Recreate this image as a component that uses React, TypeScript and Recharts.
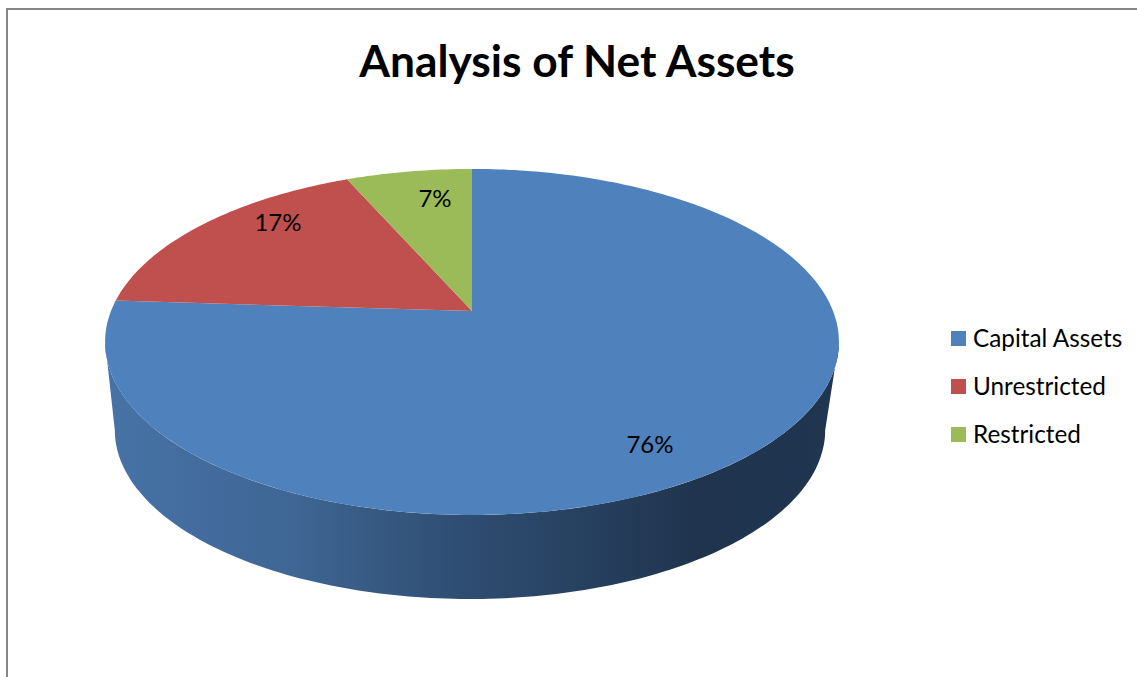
import { PieChart, Pie, Legend } from 'recharts'

const TITLE = 'Analysis of Net Assets'
const CATEGORIES = ['Capital Assets', 'Unrestricted', 'Restricted']
const VALUES = [76, 17.4, 6.6]
const COLORS = ['#4F81BD', '#C0504D', '#9BBB59']

// where each percent label sits, measured from the pie apex
const LABEL_OFFSETS = [[178, 132], [-194, -90], [-37, -114]]

const FONT = 'Lato, Carlito, sans-serif'

const data = CATEGORIES.map((name, i) => ({ name, value: VALUES[i], fill: COLORS[i] }))

// 3D tilt: the flat pie circle is projected on to an ellipse, the apex sits above the ellipse centre
const RX = 361
const RY = 173
const APEX_SHIFT = 31
const TILT = 0.179
const WALL_DROP = 88
const WALL_X_SCALE = 0.968
const WALL_Y_SCALE = 0.977

const project = (cx: number, cy: number, theta: number) => {
    const rad = (theta * Math.PI) / 180
    const den = 1 + TILT * Math.cos(rad)
    return {
        x: cx + (RX * Math.sin(rad)) / den,
        y: cy + APEX_SHIFT - (RY * Math.cos(rad) + APEX_SHIFT) / den,
    }
}

const wallPoint = (cx: number, cy: number, theta: number) => {
    const p = project(cx, cy, theta)
    const ey = cy + APEX_SHIFT
    return {
        x: cx + (p.x - cx) * WALL_X_SCALE - 2,
        y: ey + (p.y - ey) * WALL_Y_SCALE + WALL_DROP,
    }
}

const steps = (from: number, to: number) => {
    const out: number[] = []
    for (let t = from; t < to; t += 1) out.push(t)
    out.push(to)
    return out
}

const toPath = (pts: { x: number; y: number }[]) =>
    pts.map((p, i) => `${i ? 'L' : 'M'}${p.x.toFixed(1)},${p.y.toFixed(1)}`).join(' ') + ' Z'

// only the front of the rim shows: between the ellipse's left and right extremes
const FRONT_FROM = 100.3
const FRONT_TO = 259.7

// recharts angles run counter clockwise from 3 o'clock, theta runs clockwise from 12
function Slice3D(props: any) {
    const { cx, cy, startAngle, endAngle, fill } = props
    const thetaFrom = 90 - startAngle
    const thetaTo = 90 - endAngle
    const top = steps(thetaFrom, thetaTo).map(t => project(cx, cy, t))
    const from = Math.max(thetaFrom, FRONT_FROM)
    const to = Math.min(thetaTo, FRONT_TO)
    const ts = from < to ? steps(from, to) : []
    const wall = [
        ...ts.map(t => project(cx, cy, t)),
        ...ts.slice().reverse().map(t => wallPoint(cx, cy, t)),
    ]
    return (
        <g>
            {ts.length > 0 && (
                <>
                    <defs>
                        <linearGradient id="wallShade" gradientUnits="userSpaceOnUse" x1="115" x2="825" y1="0" y2="0">
                            <stop offset="0" stopColor="#4672A6" />
                            <stop offset="0.25" stopColor="#3F6694" />
                            <stop offset="0.48" stopColor="#2F4E73" />
                            <stop offset="0.68" stopColor="#263F5E" />
                            <stop offset="0.82" stopColor="#20344E" />
                            <stop offset="1" stopColor="#1F3550" />
                        </linearGradient>
                    </defs>
                    <path d={toPath(wall)} fill="url(#wallShade)" />
                </>
            )}
            <path d={toPath([{ x: cx, y: cy }, ...top])} fill={fill} />
        </g>
    )
}

function PercentLabel(props: any) {
    const { cx, cy, index, percent } = props
    const [dx, dy] = LABEL_OFFSETS[index]
    return (
        <text x={cx + dx} y={cy + dy} textAnchor="middle" dominantBaseline="central" fontFamily={FONT} fontSize={24} fill="#000">
            {`${Math.round(percent * 100)}%`}
        </text>
    )
}

function LegendList({ payload }: any) {
    return (
        <div style={{ fontFamily: FONT, fontSize: 24.3, color: '#000' }}>
            {(payload || []).map((item: any) => (
                <div key={item.value} style={{ display: 'flex', alignItems: 'center', height: 48 }}>
                    <span style={{ width: 15, height: 15, background: item.color, marginRight: 7 }} />
                    <span style={{ position: 'relative', top: -1 }}>{item.value}</span>
                </div>
            ))}
        </div>
    )
}

export default function App() {
    return (
        <div style={{ position: 'absolute', left: 0, top: 0, width: 1137, height: 677, overflow: 'hidden', background: '#fff' }}>
            <div style={{ position: 'absolute', left: 6, top: 8, width: 1300, height: 900, border: '2px solid #868686' }} />
            <PieChart width={1137} height={677} margin={{ top: 0, right: 0, bottom: 0, left: 0 }} style={{ position: 'absolute', left: 0, top: 0 }}>
                <text x={577} y={59} textAnchor="middle" dominantBaseline="central" fontFamily={FONT} fontWeight={700} fontSize={44.3} fill="#000">
                    {TITLE}
                </text>
                <Pie
                    data={data}
                    dataKey="value"
                    nameKey="name"
                    cx={472}
                    cy={311}
                    outerRadius={173}
                    startAngle={90}
                    endAngle={-270}
                    stroke="none"
                    shape={Slice3D}
                    label={PercentLabel}
                    labelLine={false}
                    isAnimationActive={false}
                />
                <Legend
                    layout="vertical"
                    align="right"
                    verticalAlign="top"
                    itemSorter={null}
                    content={<LegendList />}
                    wrapperStyle={{ left: 951, top: 314, width: 186 }}
                />
            </PieChart>
        </div>
    )
}
